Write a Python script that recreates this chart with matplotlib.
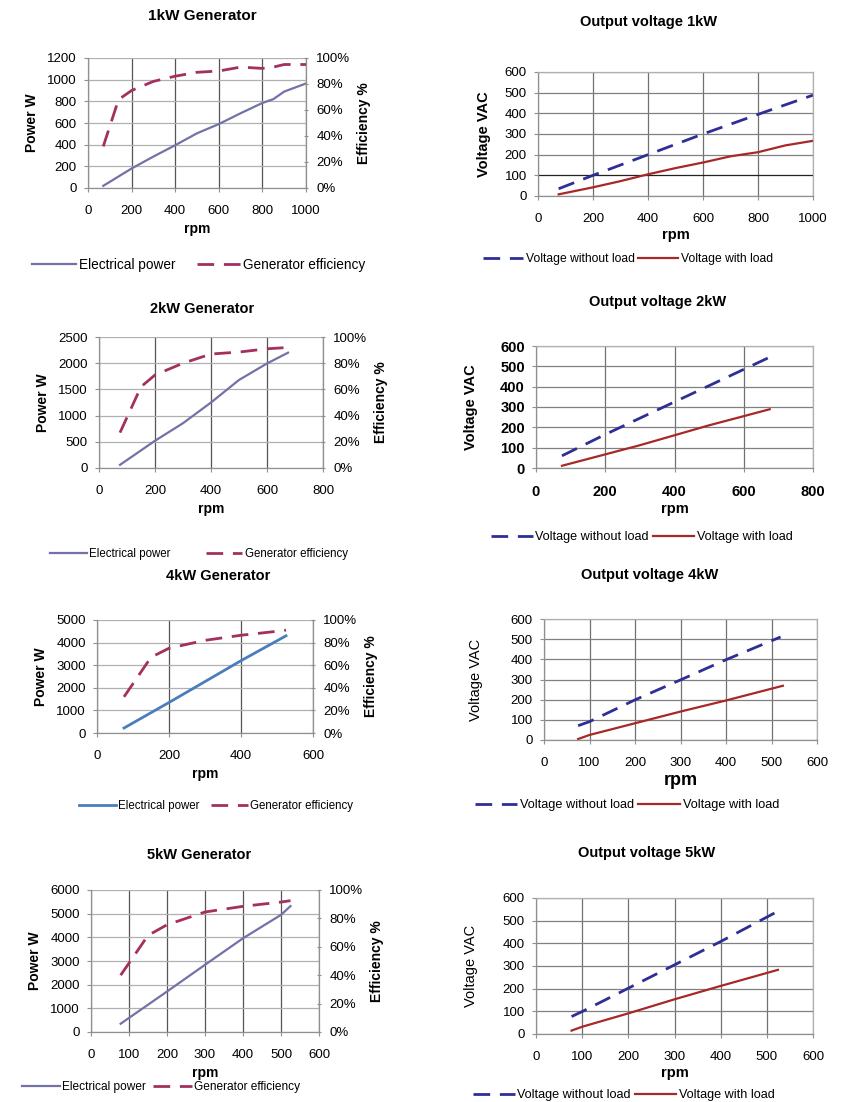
import numpy as np
import matplotlib
matplotlib.use("Agg")
import matplotlib.pyplot as plt
from matplotlib.ticker import FuncFormatter

plt.rcParams['font.family'] = ['Liberation Sans', 'DejaVu Sans']

W, H = 843, 1102

# ---- datos ----
# 1kW
rpm_p1 = [70, 200, 300, 400, 500, 600, 700, 800, 850, 900, 1000]
pow_p1 = [20, 180, 290, 395, 505, 590, 690, 785, 820, 890, 965]
rpm_e1 = [70, 140, 200, 300, 400, 500, 600, 700, 800, 850, 900, 1000]
eff_e1 = [32, 68, 75, 82, 86, 89, 90, 93, 92, 93, 95, 95]
rpm_v1a = [75, 200, 400, 600, 800, 1000]
v1_noload = [35, 100, 200, 300, 395, 488]
rpm_v1b = [75, 200, 300, 400, 500, 600, 700, 800, 900, 1000]
v1_load = [8, 42, 72, 105, 135, 162, 192, 212, 245, 267]

# 2kW
rpm_p2 = [75, 200, 300, 400, 500, 600, 675]
pow_p2 = [60, 520, 855, 1250, 1680, 1995, 2200]
rpm_e2 = [75, 150, 200, 300, 400, 500, 600, 675]
eff_e2 = [27, 62, 71, 80, 87, 88.5, 91, 92]
rpm_v2a = [75, 200, 400, 600, 675]
v2_noload = [60, 165, 325, 485, 545]
rpm_v2b = [75, 200, 300, 400, 500, 600, 675]
v2_load = [11, 67, 112, 161, 210, 255, 289]

# 4kW
rpm_p4 = [75, 200, 400, 525]
pow_p4 = [220, 1350, 3200, 4300]
rpm_e4 = [75, 150, 200, 300, 400, 500, 525]
eff_e4 = [32, 67, 75, 82, 86.5, 90, 91]
rpm_v4a = [75, 100, 200, 300, 400, 520]
v4_noload = [71, 91, 199, 298, 398, 511]
rpm_v4b = [75, 100, 200, 300, 400, 525]
v4_load = [5, 25, 83, 141, 196, 269]

# 5kW
rpm_p5 = [78, 200, 300, 400, 500, 525]
pow_p5 = [350, 1710, 2840, 3960, 4950, 5320]
rpm_e5 = [78, 100, 150, 200, 300, 400, 500, 525]
eff_e5 = [40, 48.5, 68, 75.5, 84.5, 88.5, 91.5, 92.5]
rpm_v5a = [77, 100, 200, 300, 400, 517]
v5_noload = [77, 99, 202, 305, 408, 534]
rpm_v5b = [77, 100, 200, 300, 400, 524]
v5_load = [15, 32, 91, 153, 212, 283]

c_pow = '#7272a8'
c_pow4 = '#4a7ebb'
c_eff = '#a3305e'
c_noload = '#2e2e96'
c_load = '#a82828'


def px_axes(fig, left, top, right, bottom):
    return fig.add_axes([left / W, 1 - bottom / H, (right - left) / W, (bottom - top) / H])


def estilo(ax, xmax, xstep, ymax, ystep, vgrid='#555555', hgrid='#b0b0b0', tsize=9.5):
    ax.set_xlim(0, xmax)
    ax.set_ylim(0, ymax)
    ax.set_xticks(np.arange(0, xmax + 1, xstep))
    ax.set_yticks(np.arange(0, ymax + 1, ystep))
    ax.xaxis.grid(True, color=vgrid, lw=0.9)
    ax.yaxis.grid(True, color=hgrid, lw=0.9)
    ax.set_axisbelow(True)
    for s in ax.spines.values():
        s.set_color('#909090')
        s.set_linewidth(0.9)
    ax.spines['top'].set_visible(False)
    ax.spines['right'].set_color('#b0b0b0')
    ax.tick_params(axis='both', labelsize=tsize, length=3, color='#909090', pad=5)
    ax.tick_params(axis='x', length=3, pad=9.5)


def generador(left, top, right, bottom, titulo, rp, pw, re, ef, xmax, xstep, ymax, ystep,
              color_p, ley_x, ley_y, ley_fs, ley_cs, titulo_x, titulo_y, titulo_fs=10.5):
    fig = plt.gcf()
    ax = px_axes(fig, left, top, right, bottom)
    estilo(ax, xmax, xstep, ymax, ystep)
    ax.plot(rp, pw, color=color_p, lw=1.6 if color_p == c_pow else 2.0, label='Electrical power')
    ax.set_xlabel('rpm', fontsize=10, fontweight='bold', labelpad=3)
    ax.set_ylabel('Power W', fontsize=10, fontweight='bold', labelpad=6)
    ax2 = ax.twinx()
    ax2.set_ylim(0, 100)
    ax2.set_yticks(np.arange(0, 101, 20))
    ax2.yaxis.set_major_formatter(FuncFormatter(lambda v, p: f'{int(v)}%'))
    ax2.tick_params(axis='y', labelsize=9.5, length=3, direction='inout', color='#909090', pad=6)
    for s in ax2.spines.values():
        s.set_visible(False)
    ax2.spines['right'].set_visible(True)
    ax2.spines['right'].set_color('#909090')
    ax2.plot(re, ef, color=c_eff, lw=2.0, dashes=(6, 3.5), label='Generator efficiency')
    ax2.set_ylabel('Efficiency %', fontsize=10, fontweight='bold', labelpad=5)
    fig.text(titulo_x / W, 1 - titulo_y / H, titulo, ha='center', va='center',
             fontsize=titulo_fs, fontweight='bold')
    h1, l1 = ax.get_legend_handles_labels()
    h2, l2 = ax2.get_legend_handles_labels()
    fig.legend(h1 + h2, l1 + l2, loc='center', ncol=2, frameon=False, fontsize=ley_fs,
               handlelength=3.2, columnspacing=ley_cs, handletextpad=0.2,
               bbox_to_anchor=(ley_x / W, 1 - ley_y / H))


def voltaje(left, top, right, bottom, titulo, ra, va, rb, vb, xmax, xstep,
            ley_x, ley_y, ley_fs, titulo_x, titulo_y, tsize=9.5, tbold=False, lab_bold=True,
            ylab_pad=10, rpm_fs=10.5):
    fig = plt.gcf()
    ax = px_axes(fig, left, top, right, bottom)
    estilo(ax, xmax, xstep, 600, 100, vgrid='#707070', hgrid='#808080', tsize=tsize)
    if tbold:
        for t in ax.get_yticklabels() + ax.get_xticklabels():
            t.set_fontweight('bold')
    ax.spines['top'].set_visible(True)
    ax.spines['top'].set_color('#b0b0b0')
    ax.plot(ra, va, color=c_noload, lw=2.0, dashes=(6, 3.5), label='Voltage without load')
    ax.plot(rb, vb, color=c_load, lw=1.6, label='Voltage with load')
    ax.set_xlabel('rpm', fontsize=rpm_fs, fontweight='bold', labelpad=2)
    ax.set_ylabel('Voltage VAC', fontsize=10.5, fontweight='bold' if lab_bold else 'normal',
                  labelpad=ylab_pad)
    fig.text(titulo_x / W, 1 - titulo_y / H, titulo, ha='center', va='center',
             fontsize=10.5, fontweight='bold')
    ax.legend(loc='center', ncol=2, frameon=False, fontsize=ley_fs, handlelength=3.3,
              columnspacing=0.3, handletextpad=0.2,
              bbox_to_anchor=(ley_x / W, 1 - ley_y / H),
              bbox_transform=fig.transFigure)
    return ax


fig = plt.figure(figsize=(W / 100, H / 100), dpi=100)

generador(88, 58, 306, 188, '1kW Generator', rpm_p1, pow_p1, rpm_e1, eff_e1,
          1000, 200, 1200, 200, c_pow, 199, 265, 9.8, 1.6, 202, 16, titulo_fs=11)
ax_v1 = voltaje(538, 72, 813, 196, 'Output voltage 1kW', rpm_v1a, v1_noload, rpm_v1b, v1_load,
                1000, 200, 628, 259, 8.7, 648, 22)
# linea de 100 V mas oscura en el original
ax_v1.get_ygridlines()[1].set_color('#222222')

generador(99, 337, 323, 468, '2kW Generator', rpm_p2, pow_p2, rpm_e2, eff_e2,
          800, 200, 2500, 500, c_pow, 199, 554, 8.3, 3.0, 202, 309)
voltaje(536, 346, 813, 468, 'Output voltage 2kW', rpm_v2a, v2_noload, rpm_v2b, v2_load,
        800, 200, 642, 537, 9.1, 658, 302, tsize=10.5, tbold=True, ylab_pad=16)

generador(97, 620, 313, 733, '4kW Generator', rpm_p4, pow_p4, rpm_e4, eff_e4,
          600, 200, 5000, 1000, c_pow4, 216, 806, 8.3, 1.0, 218, 576)
voltaje(544, 619, 817, 740, 'Output voltage 4kW', rpm_v4a, v4_noload, rpm_v4b, v4_load,
        600, 100, 627, 805, 9.2, 650, 575, lab_bold=False, ylab_pad=20, rpm_fs=13)

generador(91, 890, 319, 1032, '5kW Generator', rpm_p5, pow_p5, rpm_e5, eff_e5,
          600, 100, 6000, 1000, c_pow, 161, 1087, 8.6, 0.6, 199, 855)
voltaje(536, 898, 813, 1034, 'Output voltage 5kW', rpm_v5a, v5_noload, rpm_v5b, v5_load,
        600, 100, 624, 1095, 9.1, 647, 853, lab_bold=False, ylab_pad=18)

fig.savefig('out.png', dpi=100)
